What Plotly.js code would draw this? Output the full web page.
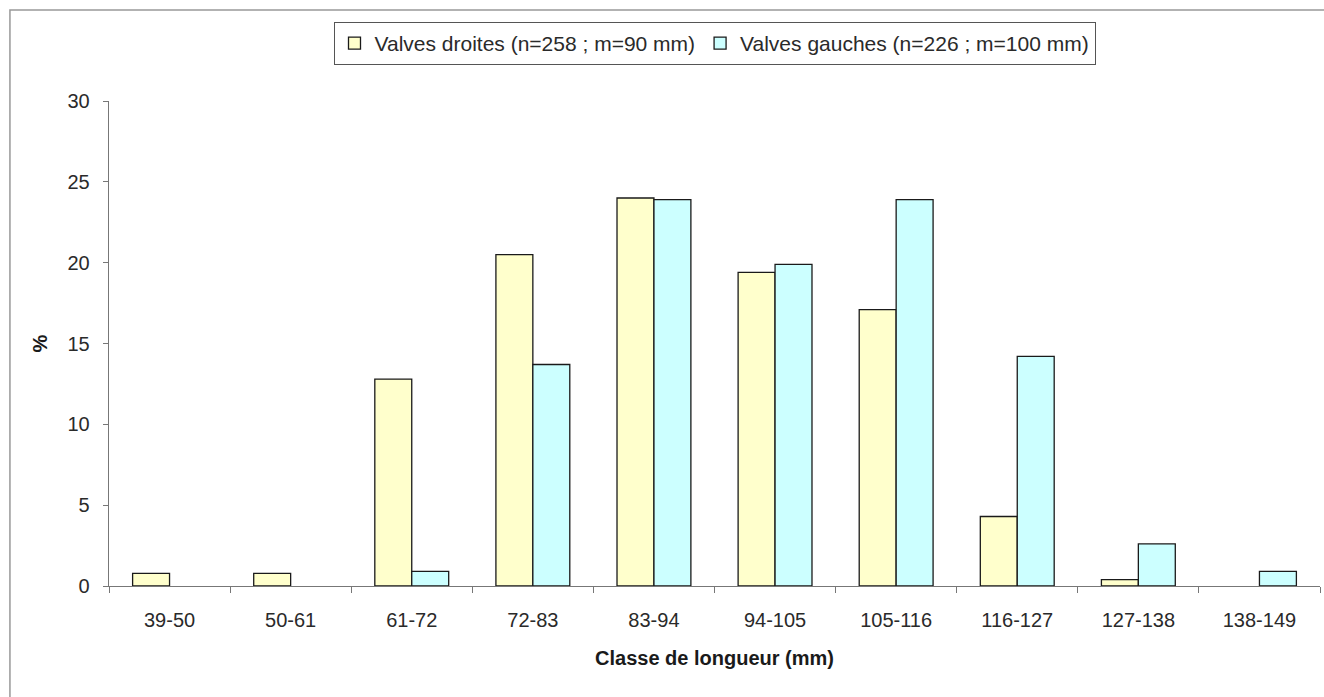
<!DOCTYPE html>
<html>
<head>
<meta charset="utf-8">
<script src="https://cdn.plot.ly/plotly-3.0.1.min.js"></script>
<style>
html,body{margin:0;padding:0;background:#fff;overflow:hidden;}
#chart{width:1324px;height:697px;}
</style>
</head>
<body>
<div id="chart"></div>
<script>
var categories = ["39-50","50-61","61-72","72-83","83-94","94-105","105-116","116-127","127-138","138-149"];
var droites = [0.78, 0.78, 12.8, 20.5, 24.0, 19.4, 17.1, 4.3, 0.4, null];
var gauches = [null, null, 0.9, 13.7, 23.9, 19.9, 23.9, 14.2, 2.6, 0.9];
var droitesName = "Valves droites (n=258 ; m=90 mm)";
var gauchesName = "Valves gauches (n=226 ; m=100 mm)";
var yTicks = [0, 5, 10, 15, 20, 25, 30];

var font = "Liberation Sans, Arial, sans-serif";

var traces = [
  {type: "bar", x: categories, y: droites, name: droitesName,
   marker: {color: "#FFFFCC", line: {color: "#1a1a1a", width: 1.3}}},
  {type: "bar", x: categories, y: gauches, name: gauchesName,
   marker: {color: "#CCFFFF", line: {color: "#1a1a1a", width: 1.3}}}
];

var layout = {
  width: 1324, height: 697,
  margin: {l: 109, r: 4, t: 101, b: 111},
  paper_bgcolor: "#fff", plot_bgcolor: "#fff",
  font: {family: font, size: 20, color: "#2a2a2a"},
  barmode: "group", bargap: 0.39, bargroupgap: 0,
  showlegend: true,
  legend: {orientation: "h", x: 0.5, xanchor: "center", y: 1.163, yanchor: "top",
           bordercolor: "#555", borderwidth: 1, bgcolor: "#fff",
           font: {family: font, size: 21, color: "#2a2a2a"},
           itemwidth: 30, tracegroupgap: 0, traceorder: "normal"},
  xaxis: {type: "category", showline: true, linecolor: "#777", linewidth: 1.3,
          ticks: "outside", tickson: "boundaries", ticklen: 6, tickcolor: "#777",
          showgrid: false, zeroline: false, ticklabelstandoff: 16,
          tickfont: {family: font, size: 20, color: "#2a2a2a"},
          title: {text: "<b>Classe de longueur (mm)</b>", standoff: 20,
                  font: {family: font, size: 20, color: "#1a1a1a"}}},
  yaxis: {range: [0, 30], tickvals: yTicks, ticktext: yTicks.map(String),
          showline: true, linecolor: "#777", linewidth: 1.3,
          ticks: "outside", ticklen: 5, tickcolor: "#777",
          showgrid: false, zeroline: false, ticklabelstandoff: 9,
          tickfont: {family: font, size: 20, color: "#2a2a2a"},
          title: {text: "<b>%</b>", standoff: 14,
                  font: {family: font, size: 20, color: "#1a1a1a"}}},
  shapes: [
    {type: "rect", xref: "paper", yref: "paper",
     x0: -0.0818, x1: 1.2, y0: -0.6, y1: 1.1876,
     line: {color: "#999", width: 1.5}, fillcolor: "rgba(0,0,0,0)", layer: "below"}
  ]
};

Plotly.newPlot("chart", traces, layout, {displayModeBar: false, staticPlot: true});
</script>
</body>
</html>
